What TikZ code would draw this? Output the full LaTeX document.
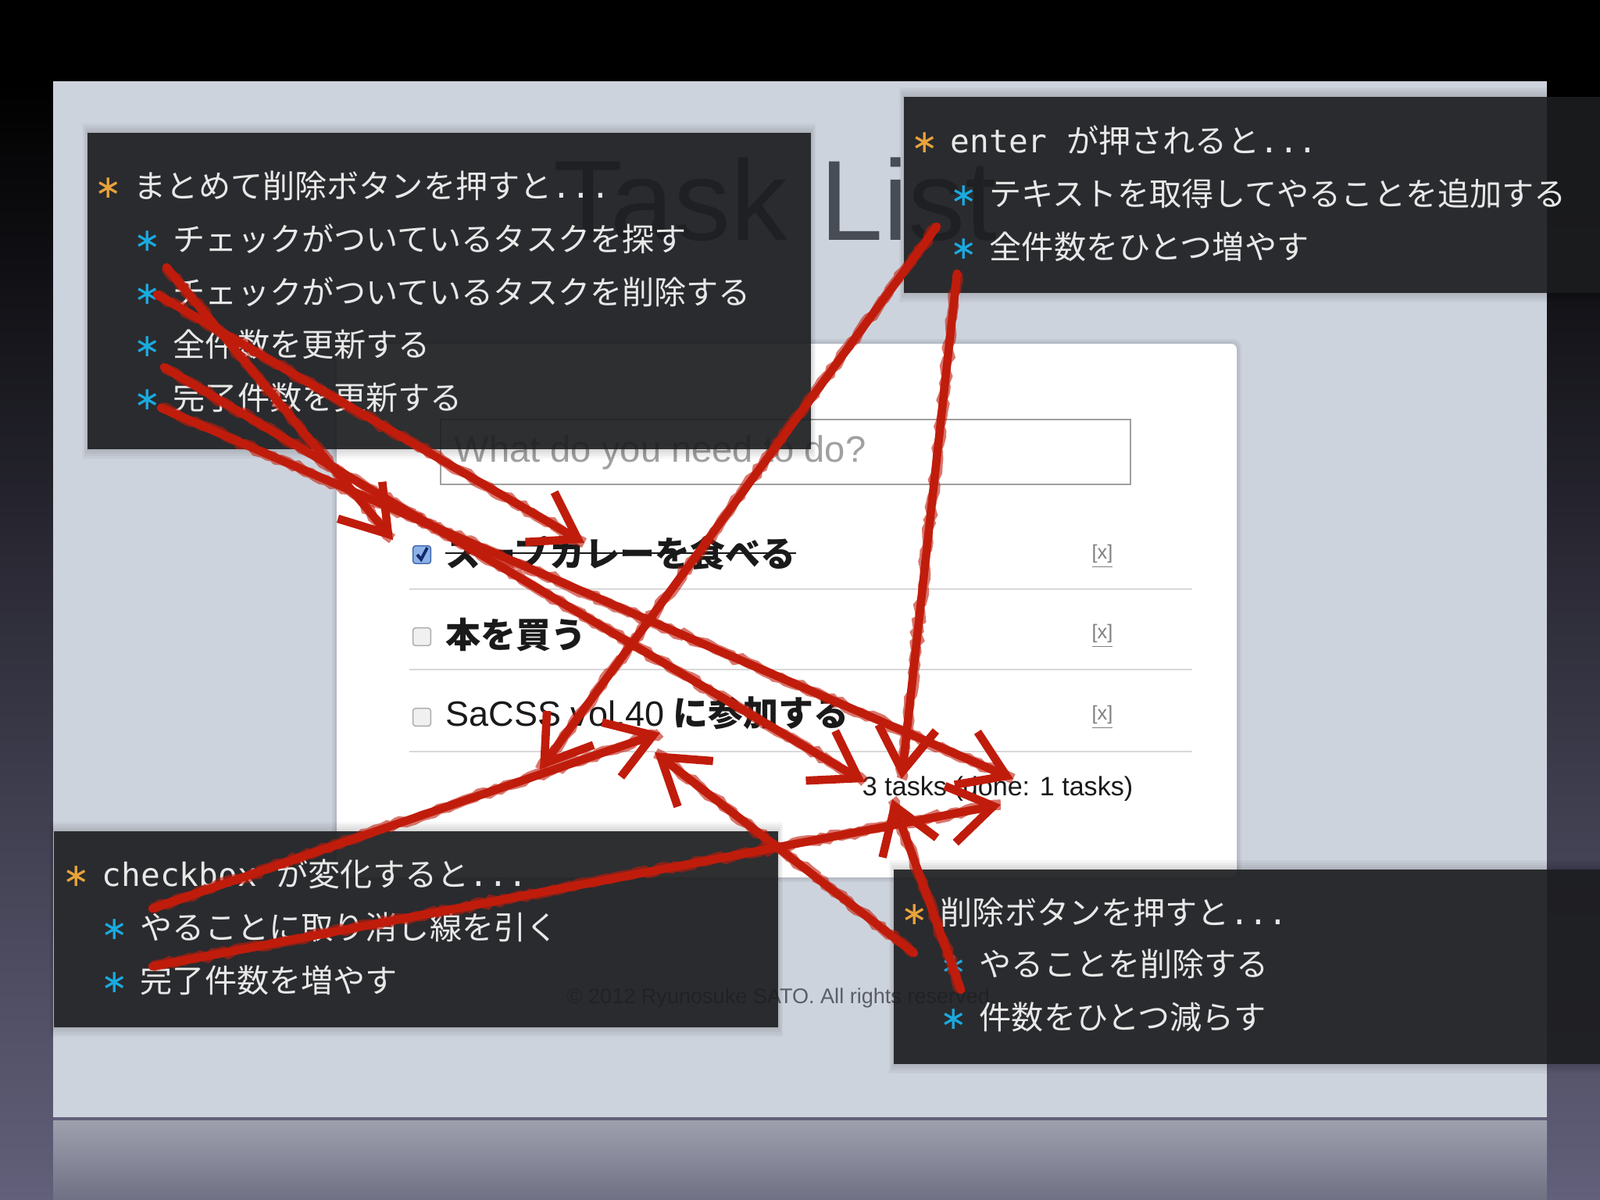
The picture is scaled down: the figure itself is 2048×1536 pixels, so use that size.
\documentclass[tikz,border=0pt]{standalone}
\usepackage{fontspec}
\setmainfont{Noto Sans CJK JP}
\newfontfamily\monofont{DejaVu Sans Mono}
\newfontfamily\webfont{Liberation Sans}
\newfontfamily\starfont{DejaVu Sans}
\usetikzlibrary{arrows.meta,decorations.pathmorphing}

\definecolor{slidebg}{RGB}{205,211,221}
\definecolor{notefill}{RGB}{28,29,31}
\definecolor{notetext}{RGB}{232,232,232}
\definecolor{leadstar}{RGB}{232,163,60}
\definecolor{substar}{RGB}{26,170,224}
\definecolor{crayon}{RGB}{192,28,12}
\definecolor{titlegray}{RGB}{72,76,84}
\definecolor{rulegray}{RGB}{216,216,216}
\definecolor{hintgray}{RGB}{160,160,160}
\definecolor{tasktext}{RGB}{26,26,26}
\definecolor{sidemid}{RGB}{20,26,54}
\definecolor{sidelow}{RGB}{98,96,122}
\definecolor{mirrortop}{RGB}{158,160,174}
\definecolor{mirrorlow}{RGB}{112,112,132}
\definecolor{tickedge}{RGB}{60,100,170}
\definecolor{tickfill}{RGB}{140,178,232}
\definecolor{tickmark}{RGB}{20,40,110}
\definecolor{boxedge}{RGB}{170,170,170}
\definecolor{boxfill}{RGB}{240,240,240}
\definecolor{footgray}{RGB}{90,94,102}

\newcommand{\leadmark}{\makebox[0.5cm][l]{\textcolor{leadstar}{\starfont ∗}}}
\newcommand{\submark}{\makebox[0.5cm][l]{\textcolor{substar}{\starfont ∗}}}

\begin{document}
\begin{tikzpicture}[x=0.01cm,y=-0.01cm,
  notebox/.style={fill=notefill,fill opacity=0.9},
  noteline/.style={anchor=west,inner sep=0pt,text=notetext,font=\fontsize{11.7}{14}\selectfont},
  taskline/.style={anchor=west,inner sep=0pt,text=tasktext,font=\fontsize{12.8}{15}\selectfont\bfseries},
  tickbox/.style={draw=boxedge,fill=boxfill,rounded corners=1pt,minimum size=6.5pt,inner sep=0pt},
  rule/.style={draw=rulegray,line width=0.6pt},
  delmark/.style={inner sep=0pt,text=gray,font=\webfont\fontsize{7.2}{8}\selectfont},
  crayonarrow/.style={draw=crayon,line width=3pt,line cap=round,-{Straight Barb[length=16pt,width=21pt]},
    preaction={draw=crayon,-,line width=3.8pt,opacity=0.6,decorate,
      decoration={random steps,segment length=2pt,amplitude=0.7pt}}}]
  \useasboundingbox (0,0) rectangle (2048,1536);
  % stage behind the slide
  \fill[black] (0,0) rectangle (2048,1536);
  \shade[top color=black,middle color=sidemid,bottom color=sidelow] (0,104) rectangle (2048,1536);
  \fill[slidebg] (68,104) rectangle (1980,1430);
  \fill[sidelow] (68,1430) rectangle (1980,1434);
  \shade[top color=mirrortop,bottom color=mirrorlow] (68,1434) rectangle (1980,1536);
  % the page
  \node[anchor=base west,inner sep=0pt,text=titlegray,font=\webfont\fontsize{41.5}{48}\selectfont] (title) at (708,307) {Task List};
  \foreach \g in {2,4,6}
    \fill[black,opacity=0.04,rounded corners=3pt] (431-\g,440-\g) rectangle (1583+\g,1123+\g);
  \fill[white,rounded corners=2pt] (431,440) rectangle (1583,1123);
  \draw[hintgray,fill=white,line width=0.6pt] (564,537) rectangle (1447,620);
  \node[anchor=west,inner sep=0pt,text=hintgray,font=\webfont\fontsize{13.4}{16}\selectfont] (hint) at (581,579) {What do you need to do?};
  \node[tickbox,draw=tickedge,fill=tickfill] (box1) at (540,710) {};
  \draw[line width=1.1pt,tickmark] ([shift={(-6,0)}]box1.center) -- ([shift={(-1,6)}]box1.center) -- ([shift={(7,-9)}]box1.center);
  \node[tickbox] (box2) at (540,815) {};
  \node[tickbox] (box3) at (540,918) {};
  \node[taskline] (task1) at (570,708) {スープカレーを食べる};
  \draw[tasktext,line width=0.7pt] (task1.west) -- (task1.east);
  \node[taskline] (task2) at (570,812) {本を買う};
  \node[taskline] (task3) at (570,912) {{\webfont\mdseries SaCSS vol.40} に参加する};
  \foreach \y in {754,857,962}
    \draw[rule] (524,\y) -- (1526,\y);
  \foreach \n/\y in {1/712,2/814,3/918}
    \node[delmark] (del\n) at (1411,\y) {\underline{[x]}};
  \node[anchor=east,inner sep=0pt,text=tasktext,font=\webfont\fontsize{9.7}{12}\selectfont] (count) at (1451,1010) {3 tasks (done: 1 tasks)};
  \node[anchor=west,inner sep=0pt,text=footgray,font=\webfont\fontsize{7.7}{10}\selectfont] (copy) at (725,1277) {© 2012 Ryunosuke SATO. All rights reserved.};
  % note boxes
  \foreach \xa/\ya/\xb/\yb in {112/170/1038/575,1157/124/2048/375,69/1064/996/1315,1144/1113/2048/1362}{
    \foreach \g in {3,6,9,12}
      \fill[black,opacity=0.035] (\xa-\g/2,\ya-\g) rectangle (\xb+\g/2,\yb+\g);
    \fill[notebox] (\xa,\ya) rectangle (\xb,\yb);
  }
  \node[noteline] (bulkHead) at (121,238) {\leadmark まとめて削除ボタンを押すと{\monofont ...}};
  \node[noteline] (bulkFind) at (171,306) {\submark チェックがついているタスクを探す};
  \node[noteline] (bulkDrop) at (171,374) {\submark チェックがついているタスクを削除する};
  \node[noteline] (bulkTotal) at (171,441) {\submark 全件数を更新する};
  \node[noteline] (bulkDone) at (171,509) {\submark 完了件数を更新する};
  \node[noteline] (enterHead) at (1166,180) {\leadmark{\monofont enter }が押されると{\monofont ...}};
  \node[noteline] (enterAdd) at (1216,248) {\submark テキストを取得してやることを追加する};
  \node[noteline] (enterTotal) at (1216,316) {\submark 全件数をひとつ増やす};
  \node[noteline] (checkHead) at (80,1119) {\leadmark{\monofont checkbox }が変化すると{\monofont ...}};
  \node[noteline] (checkStrike) at (129,1187) {\submark やることに取り消し線を引く};
  \node[noteline] (checkDone) at (129,1255) {\submark 完了件数を増やす};
  \node[noteline] (delHead) at (1153,1168) {\leadmark 削除ボタンを押すと{\monofont ...}};
  \node[noteline] (delItem) at (1203,1234) {\submark やることを削除する};
  \node[noteline] (delCount) at (1203,1302) {\submark 件数をひとつ減らす};
  % red pencil arrows
  \coordinate (findTail) at (213,342);   \coordinate (findTip) at (503,691);
  \coordinate (dropTail) at (201,377);   \coordinate (dropTip) at (748,695);
  \coordinate (totalTail) at (210,470);  \coordinate (totalTip) at (1107,1001);
  \coordinate (doneTail) at (206,522);   \coordinate (doneTip) at (1297,997);
  \coordinate (addTail) at (1199,290);   \coordinate (addTip) at (691,985);
  \coordinate (plusTail) at (1225,350);  \coordinate (plusTip) at (1154,997);
  \coordinate (strikeTail) at (195,1163); \coordinate (strikeTip) at (845,938);
  \coordinate (tickTail) at (195,1237);  \coordinate (tickTip) at (1281,1030);
  \coordinate (removeTail) at (1170,1220); \coordinate (removeTip) at (838,963);
  \coordinate (minusTail) at (1230,1267); \coordinate (minusTip) at (1142,1023);
  \foreach \a in {find,drop,total,done,add,plus,strike,tick,remove,minus}
    \draw[crayonarrow] (\a Tail) -- (\a Tip);
\end{tikzpicture}
\end{document}
